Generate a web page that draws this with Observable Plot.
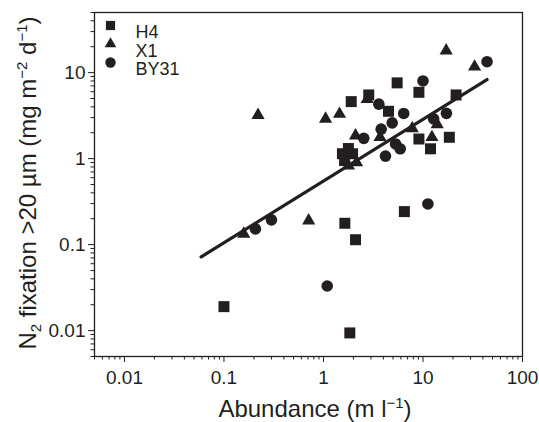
<!DOCTYPE html>
<html><head><meta charset="utf-8">
<script src="https://cdn.jsdelivr.net/npm/d3@7"></script>
<script src="https://cdn.jsdelivr.net/npm/@observablehq/plot@0.6"></script>
<style>body{margin:0;background:#fff;}</style>
</head><body><div id="chart"></div>
<script>
// ---- data ----
const seriesNames = ["H4", "X1", "BY31"];

const h4X = [0.1, 1.84, 1.64, 2.1, 6.5, 1.9, 2.85, 4.5, 5.5, 9.1, 21.5, 9.1, 18.4, 11.9, 1.55, 1.78, 1.96, 1.63];
const h4Y = [0.019, 0.0094, 0.177, 0.114, 0.242, 4.6, 5.5, 3.55, 7.6, 5.9, 5.5, 1.69, 1.77, 1.3, 1.14, 1.31, 1.14, 0.95];

const x1X = [0.22, 0.158, 0.71, 17.1, 33, 2.75, 1.05, 1.45, 2.1, 3.7, 12.3, 7.8, 13.9, 1.78, 2.15];
const x1Y = [3.2, 0.133, 0.19, 18, 11.7, 4.9, 2.9, 3.3, 1.85, 1.77, 1.77, 2.25, 2.5, 0.83, 0.9];

const by31X = [0.207, 0.30, 1.09, 11.2, 44, 10, 3.6, 6.4, 17.2, 12.8, 4.9, 3.8, 2.54, 5.3, 5.9, 4.2];
const by31Y = [0.152, 0.194, 0.033, 0.297, 13.4, 8.0, 4.3, 3.35, 3.36, 2.9, 2.6, 2.2, 1.72, 1.48, 1.3, 1.07];

// regression line end points
const fitX = [0.059, 44];
const fitY = [0.072, 8.3];

const xTicks = [0.01, 0.1, 1, 10, 100];
const xTickLabels = ["0.01", "0.1", "1", "10", "100"];
const yTicks = [0.01, 0.1, 1, 10];
const yTickLabels = ["0.01", "0.1", "1", "10"];
const xDomain = [0.005, 100];
const yDomain = [0.005, 50];

// ---- build ----
const ink = "#231f20";
const font = "'Liberation Sans', Arial, Helvetica, sans-serif";
const toRows = (xs, ys) => xs.map((x, i) => ({x, y: ys[i]}));
const h4 = toRows(h4X, h4Y), x1 = toRows(x1X, x1Y), by31 = toRows(by31X, by31Y);
const fit = toRows(fitX, fitY);

function minorTicks([lo, hi]) {
  const out = [];
  for (let e = Math.floor(Math.log10(lo)); e <= Math.ceil(Math.log10(hi)); e++)
    for (let k = 2; k <= 9; k++) { const v = +(k * Math.pow(10, e)).toPrecision(6); if (v >= lo && v <= hi) out.push(v); }
  return out;
}
const xLab = new Map(xTicks.map((t, i) => [t, xTickLabels[i]]));
const yLab = new Map(yTicks.map((t, i) => [t, yTickLabels[i]]));

const symbols = ["square", "triangle", "circle"];
const radii = [6.2, 4.9, 5.8];
const legendR = [5.2, 4.3, 5.2];

const chart = Plot.plot({
  width: 539, height: 422,
  marginLeft: 94, marginRight: 17, marginTop: 12, marginBottom: 66,
  style: {fontFamily: font, color: ink, background: "#fff", overflow: "visible"},
  x: {type: "log", domain: xDomain, label: null},
  y: {type: "log", domain: yDomain, label: null},
  marks: [
    Plot.axisX(minorTicks(xDomain), {tickSize: 3.5, tickFormat: () => "", label: null, stroke: ink, strokeWidth: 1}),
    Plot.axisX(xTicks, {tickSize: 6, tickPadding: 8, tickFormat: d => xLab.get(d), fontSize: 19, label: null, stroke: ink, strokeWidth: 1, fill: ink}),
    Plot.axisY(minorTicks(yDomain), {tickSize: 3.5, tickFormat: () => "", label: null, stroke: ink, strokeWidth: 1}),
    Plot.axisY(yTicks, {tickSize: 6, tickPadding: 3, tickFormat: d => yLab.get(d), fontSize: 19, label: null, stroke: ink, strokeWidth: 1, fill: ink}),
    Plot.frame({stroke: ink, strokeWidth: 1.3}),
    Plot.dot(h4, {x: "x", y: "y", symbol: symbols[0], r: radii[0], fill: ink, stroke: null}),
    Plot.dot(x1, {x: "x", y: "y", symbol: symbols[1], r: radii[1], fill: ink, stroke: null}),
    Plot.dot(by31, {x: "x", y: "y", symbol: symbols[2], r: radii[2], fill: ink, stroke: null}),
    Plot.line(fit, {x: "x", y: "y", stroke: ink, strokeWidth: 3.3}),
    ...seriesNames.flatMap((name, i) => [
      Plot.dot([name], {frameAnchor: "top-left", dx: 16, dy: 13 + i * 18.5, symbol: symbols[i], r: legendR[i], fill: ink, stroke: null}),
      Plot.text([name], {text: d => d, frameAnchor: "top-left", dx: 41, dy: 13 + i * 18.5, textAnchor: "start", fontSize: 18, fill: ink})
    ])
  ]
});
document.getElementById("chart").appendChild(chart);

// axis titles with sub/superscripts
const svg = d3.select(chart);
const xt = svg.append("text").attr("x", 315).attr("y", 417).attr("text-anchor", "middle")
  .attr("font-size", 24).attr("fill", ink).attr("font-family", font);
xt.append("tspan").text("Abundance (m l");
xt.append("tspan").attr("dy", -9).attr("font-size", 15).text("\u22121");
xt.append("tspan").attr("dy", 9).text(")");

const yt = svg.append("text").attr("transform", "translate(36,183) rotate(-90)").attr("text-anchor", "middle")
  .attr("font-size", 24).attr("fill", ink).attr("font-family", font);
yt.append("tspan").text("N");
yt.append("tspan").attr("dy", 5).attr("font-size", 15).text("2");
yt.append("tspan").attr("dy", -5).text(" fixation >20 \u00b5m (mg m");
yt.append("tspan").attr("dy", -9).attr("font-size", 15).text("\u22122");
yt.append("tspan").attr("dy", 9).text(" d");
yt.append("tspan").attr("dy", -9).attr("font-size", 15).text("\u22121");
yt.append("tspan").attr("dy", 9).text(")");
</script>
</body></html>
